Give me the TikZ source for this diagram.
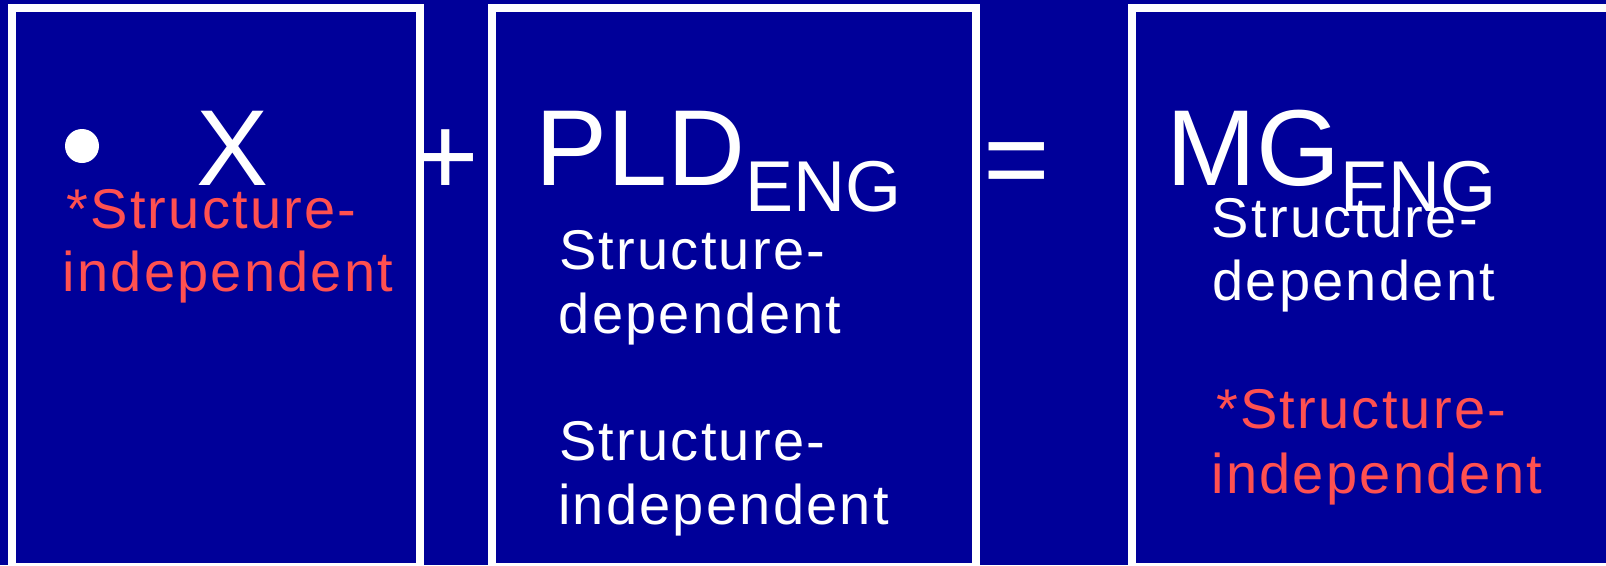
\documentclass[tikz,border=0pt]{standalone}
\usepackage{fontspec}
\setmainfont{Liberation Sans}
\newfontfamily\spacedfont[LetterSpace=4]{Liberation Sans}
\definecolor{slideblue}{HTML}{000099}
\definecolor{slidered}{HTML}{FF5050}
\tikzset{
  panel/.style={draw=white, line width=8pt},
  bigtxt/.style={anchor=base west, inner sep=0pt, text=white,
    font=\fontsize{108}{120}\selectfont},
  optxt/.style={anchor=base, inner sep=0pt, text=white,
    font=\fontsize{114}{120}\selectfont},
  linetxt/.style={anchor=base west, inner sep=0pt,
    font=\spacedfont\fontsize{56}{64}\selectfont},
  plain/.style={linetxt, text=white},
  starred/.style={linetxt, text=slidered},
}
\newcommand{\subeng}{\raisebox{-26pt}{\fontsize{72}{80}\selectfont ENG}}

\begin{document}
\begin{tikzpicture}[x=1pt,y=-1pt]
\useasboundingbox (0,0) rectangle (1606,565);
\fill[slideblue] (0,0) rectangle (1606,565);
\clip (0,0) rectangle (1606,565);

% the three panels
\draw[panel] (12,8) rectangle (420,567);
\draw[panel] (492,8) rectangle (975.5,567);
\draw[panel] (1132,8.3) rectangle (1640,567);

% left panel: X
\node[circle, fill=white, minimum size=34pt, inner sep=0pt] (bullet) at (82,146) {};
\node[bigtxt] (x) at (196.5,185.7) {X};
\node[starred] (xa) at (66.3,228) {*Structure-};
\node[starred] (xb) at (62.5,291) {independent};

% operators
\node[optxt] (plus) at (445.5,195) {+};
\node[optxt] (equals) at (1017,198) {=};

% middle panel: PLD_ENG
\node[bigtxt] (pld) at (534.8,185.7) {PLD\subeng};
\node[plain] (pa) at (559,269.3) {Structure-};
\node[plain] (pb) at (558.7,333.3) {dependent};
\node[plain] (pc) at (559,460) {Structure-};
\node[plain] (pd) at (558,524) {independent};

% right panel: MG_ENG
\node[bigtxt] (mg) at (1166,185.7) {MG\subeng};
\node[plain] (ma) at (1211.6,237.3) {Structure-};
\node[plain] (mb) at (1212.3,300.7) {dependent};
\node[starred] (mc) at (1216,428.3) {*Structure-};
\node[starred] (md) at (1211.3,493.3) {independent};
\end{tikzpicture}
\end{document}
